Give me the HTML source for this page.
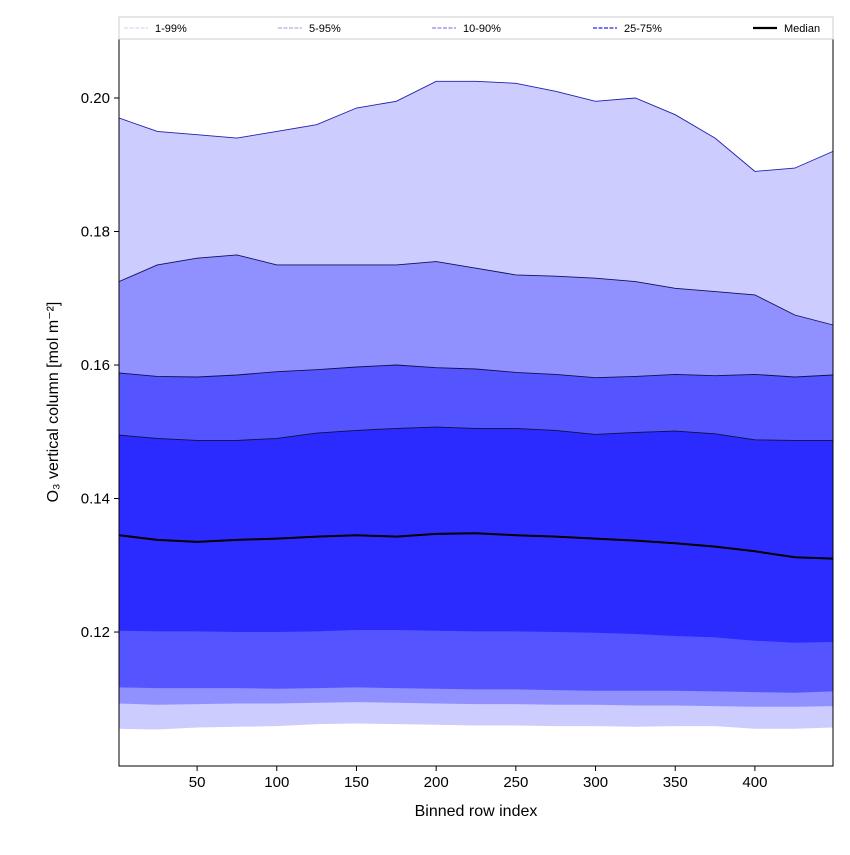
<!DOCTYPE html>
<html><head><meta charset="utf-8"><style>
body{margin:0;background:#fff;font-family:"Liberation Sans",sans-serif}
</style></head><body>
<svg id="chart" width="850" height="850" xmlns="http://www.w3.org/2000/svg" font-family="Liberation Sans, DejaVu Sans, sans-serif">
<g id="bands"></g>
<g id="axes"></g>
<g id="legend"></g>
</svg>
<script>
const xs = [1,25,50,75,100,125,150,175,200,225,250,275,300,325,350,375,400,425,449];
const p99 = [0.197,0.195,0.1945,0.194,0.195,0.196,0.1985,0.1995,0.2025,0.2025,0.2022,0.201,0.1995,0.2,0.1975,0.194,0.189,0.1895,0.192];
const p95 = [0.1725,0.175,0.176,0.1765,0.175,0.175,0.175,0.175,0.1755,0.1745,0.1735,0.1733,0.173,0.1725,0.1715,0.171,0.1705,0.1675,0.166];
const p90 = [0.1588,0.1583,0.1582,0.1585,0.159,0.1593,0.1597,0.16,0.1596,0.1594,0.1589,0.1586,0.1581,0.1583,0.1586,0.1584,0.1586,0.1582,0.1585];
const p75 = [0.1495,0.149,0.1487,0.1487,0.149,0.1498,0.1502,0.1505,0.1507,0.1505,0.1505,0.1502,0.1496,0.1499,0.1501,0.1497,0.1488,0.1487,0.1487];
const med = [0.1345,0.1338,0.1335,0.1338,0.134,0.1343,0.1345,0.1343,0.1347,0.1348,0.1345,0.1343,0.134,0.1337,0.1333,0.1328,0.1321,0.1312,0.131];
const p25 = [0.1202,0.1201,0.1201,0.12,0.12,0.1201,0.1203,0.1203,0.1202,0.1201,0.1201,0.12,0.1199,0.1197,0.1194,0.1192,0.1187,0.1184,0.1185];
const p10 = [0.1117,0.1116,0.1116,0.1116,0.1115,0.1116,0.1117,0.1116,0.1115,0.1114,0.1114,0.1113,0.1112,0.1112,0.1112,0.1111,0.111,0.1109,0.1111];
const p05 = [0.1093,0.1091,0.1092,0.1093,0.1093,0.1094,0.1095,0.1094,0.1093,0.1092,0.1092,0.1091,0.1091,0.109,0.109,0.1089,0.1088,0.1088,0.1089];
const p01 = [0.1055,0.1054,0.1057,0.1058,0.1059,0.1062,0.1063,0.1062,0.1061,0.106,0.106,0.1059,0.1059,0.1058,0.1059,0.1059,0.1055,0.1055,0.1057];
const xTicks = [50,100,150,200,250,300,350,400];
const yTicks = [0.12,0.14,0.16,0.18,0.20];

const L=119,R=833,T=39,B=766, X0=1,X1=449, Y0=0.09993,Y1=0.20884;
const sx=v=>L+(v-X0)/(X1-X0)*(R-L);
const sy=v=>B-(v-Y0)/(Y1-Y0)*(B-T);
const NS='http://www.w3.org/2000/svg';
function mk(tag,attrs,parent){const e=document.createElementNS(NS,tag);for(const k in attrs)e.setAttribute(k,attrs[k]);parent.appendChild(e);return e;}
const bands=document.getElementById('bands'), axes=document.getElementById('axes'), leg=document.getElementById('legend');
function line(arr){return xs.map((x,i)=>sx(x).toFixed(1)+','+sy(arr[i]).toFixed(1)).join(' L');}
function band(lo,hi,color,name){
  const d='M'+line(hi)+' L'+xs.slice().reverse().map((x,j)=>{const i=xs.length-1-j;return sx(x).toFixed(1)+','+sy(lo[i]).toFixed(1);}).join(' L')+'Z';
  const p=mk('path',{d:d,fill:color},bands);
  
  
}
band(p01,p99,'#ccccff','band-1-99');
band(p05,p95,'#9090ff','band-5-95');
band(p10,p90,'#5555ff','band-10-90');
band(p25,p75,'#2b2bff','band-25-75');
[[p99,'#2020b0','upper-99-line'],[p95,'#101060','upper-95-line'],[p90,'#101050','upper-90-line'],[p75,'#101040','upper-75-line']].forEach(([a,c,n])=>{
  const p=mk('path',{d:'M'+line(a),fill:'none',stroke:c,'stroke-width':0.9},bands);
  
  
});
const mp=mk('path',{d:'M'+line(med),fill:'none',stroke:'#000','stroke-width':2},bands);



mk('rect',{x:L,y:T,width:R-L,height:B-T,fill:'none',stroke:'#000','stroke-width':1},axes);
xTicks.forEach(t=>{
  const x=sx(t);
  mk('line',{x1:x,x2:x,y1:B,y2:B+5,stroke:'#000'},axes);
  const tx=mk('text',{x:x,y:B+21,'font-size':15,'text-anchor':'middle'},axes);tx.textContent=t;
  
  
});
yTicks.forEach(t=>{
  const y=sy(t);
  mk('line',{x1:L-5,x2:L,y1:y,y2:y,stroke:'#000'},axes);
  const tx=mk('text',{x:L-9,y:y+5,'font-size':15,'text-anchor':'end'},axes);tx.textContent=t.toFixed(2);
  
  
});
const xt=mk('text',{x:(L+R)/2,y:816,'font-size':16,'text-anchor':'middle'},axes);xt.textContent='Binned row index';


const yt=mk('text',{x:0,y:0,'font-size':16,'text-anchor':'middle',transform:'translate(58,402) rotate(-90)'},axes);yt.textContent='O₃ vertical column [mol m⁻²]';



mk('rect',{x:119,y:17,width:714,height:22,fill:'#fff',stroke:'#ccc'},leg);
const items=[['1-99%',124,'#ccccff',1],['5-95%',278,'#9999ee',1],['10-90%',432,'#8888ee',1.3],['25-75%',593,'#6666ee',1.8],['Median',753,'#000',2.2]];
items.forEach(([lab,x,c,w],i)=>{
  const g=mk('g',{},leg);
  
  
  mk('line',{x1:x,x2:x+24,y1:28,y2:28,stroke:c,'stroke-width':w,'stroke-dasharray':i<4?'4,1.5':'none'},g);
  const t=mk('text',{x:x+31,y:32,'font-size':11},g);t.textContent=lab;
});
</script>
</body></html>
